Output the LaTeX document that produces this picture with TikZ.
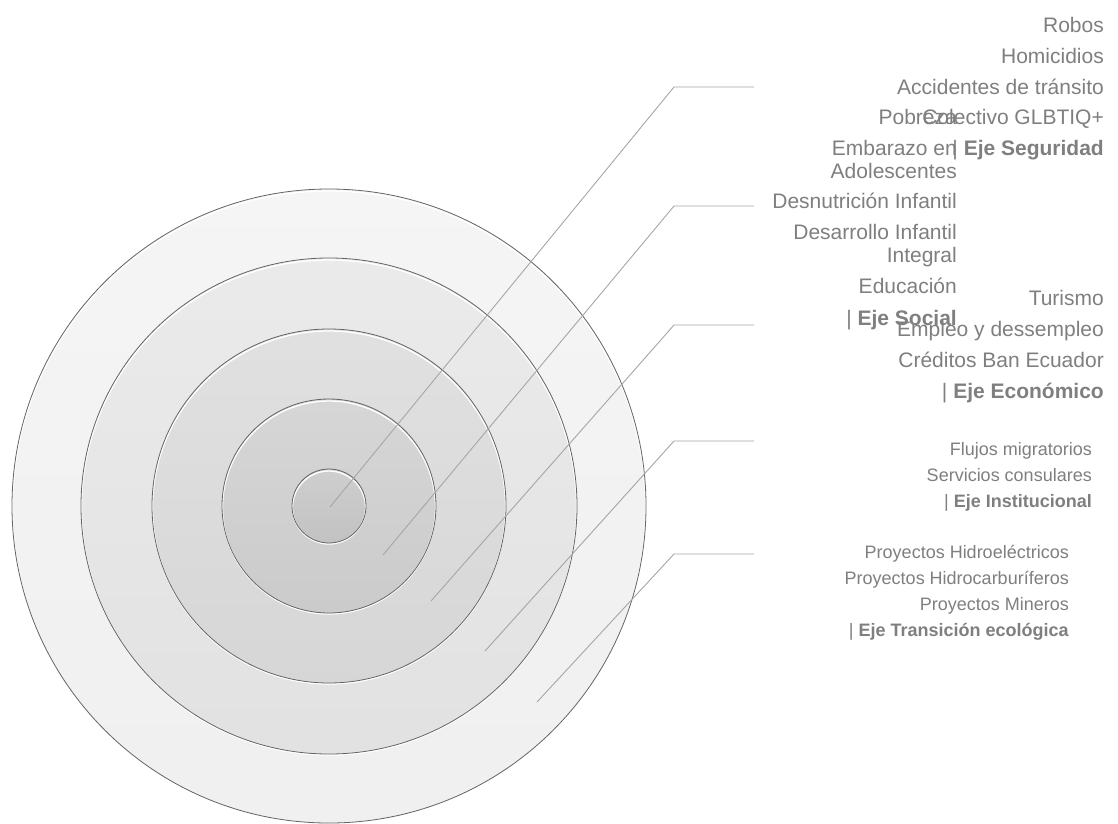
\documentclass[tikz,border=0pt]{standalone}
\usepackage{fontspec}
\setmainfont{Liberation Sans}
\definecolor{txt}{RGB}{127,127,127}
\definecolor{ldr}{RGB}{166,166,166}
\definecolor{rim}{RGB}{100,100,100}
\newcommand{\ringdisc}[4]{%
  \shade[top color=#3, bottom color=#4] (329,506) circle [radius=#1];
  \draw[white, line width=1.3pt] (329,507.5) circle [radius=#1-0.5];
  \draw[rim, line width=0.8pt] (329,506) circle [radius=#1];
}
\begin{document}
\begin{tikzpicture}[x=1pt,y=-1pt,
  big/.style={font=\fontsize{21}{23.3}\selectfont, text=txt, inner sep=0pt, anchor=base east},
  small/.style={font=\fontsize{18}{20}\selectfont, text=txt, inner sep=0pt, anchor=base east},
  leader/.style={draw=ldr, line width=0.9pt},
]
\useasboundingbox (0,0) rectangle (1118,823);
\fill[white] (0,0) rectangle (1118,823);

% concentric discs
\ringdisc{317}{}{white!96!black}{white!94!black}
\ringdisc{248}{}{white!92!black}{white!88.5!black}
\ringdisc{177}{}{white!88!black}{white!84!black}
\ringdisc{107}{}{white!84!black}{white!79.5!black}
\ringdisc{37}{}{white!81!black}{white!76!black}

% leader lines
\coordinate (p1) at (330,507); \coordinate (k1) at (674,87);  \coordinate (e1) at (754,87);
\coordinate (p2) at (383,555); \coordinate (k2) at (674,206); \coordinate (e2) at (754,206);
\coordinate (p3) at (431,601); \coordinate (k3) at (674,325); \coordinate (e3) at (754,325);
\coordinate (p4) at (485,651); \coordinate (k4) at (674,441); \coordinate (e4) at (754,441);
\coordinate (p5) at (537,702); \coordinate (k5) at (674,554); \coordinate (e5) at (754,554);
\foreach \i in {1,...,5} { \draw[leader] (p\i) -- (k\i) -- (e\i); }

% Eje Seguridad
\node[big] (s1) at (1104,32.5) {Robos};
\node[big] (s2) at (1104,63.5) {Homicidios};
\node[big] (s3) at (1104,94.3) {Accidentes de tránsito};
\node[big] (s4) at (1104,124.5) {Colectivo GLBTIQ+};
\node[big] (s5) at (1104,155.3) {| \textbf{Eje Seguridad}};

% Eje Social
\node[big] (o1) at (957,124.5) {Pobreza};
\node[big] (o2) at (957,155.3) {\begin{tabular}[t]{@{}r@{}}Embarazo en\\Adolescentes\end{tabular}};
\node[big] (o3) at (957,208.3) {Desnutrición Infantil};
\node[big] (o4) at (957,239.3) {\begin{tabular}[t]{@{}r@{}}Desarrollo Infantil\\Integral\end{tabular}};
\node[big] (o5) at (957,293.3) {Educación};
\node[big] (o6) at (957,325) {| \textbf{Eje Social}};

% Eje Economico
\node[big] (c1) at (1104,305) {Turismo};
\node[big] (c2) at (1104,336) {Empleo y dessempleo};
\node[big] (c3) at (1104,367) {Créditos Ban Ecuador};
\node[big] (c4) at (1104,398) {| \textbf{Eje Económico}};

% Eje Institucional
\node[small] (i1) at (1092,455) {Flujos migratorios};
\node[small] (i2) at (1092,481) {Servicios consulares};
\node[small] (i3) at (1092,507) {| \textbf{Eje Institucional}};

% Eje Transicion ecologica
\node[small] (t1) at (1069,558.3) {Proyectos Hidroeléctricos};
\node[small] (t2) at (1069,584) {Proyectos Hidrocarburíferos};
\node[small] (t3) at (1069,610) {Proyectos Mineros};
\node[small] (t4) at (1069,636) {| \textbf{Eje Transición ecológica}};
\end{tikzpicture}
\end{document}
